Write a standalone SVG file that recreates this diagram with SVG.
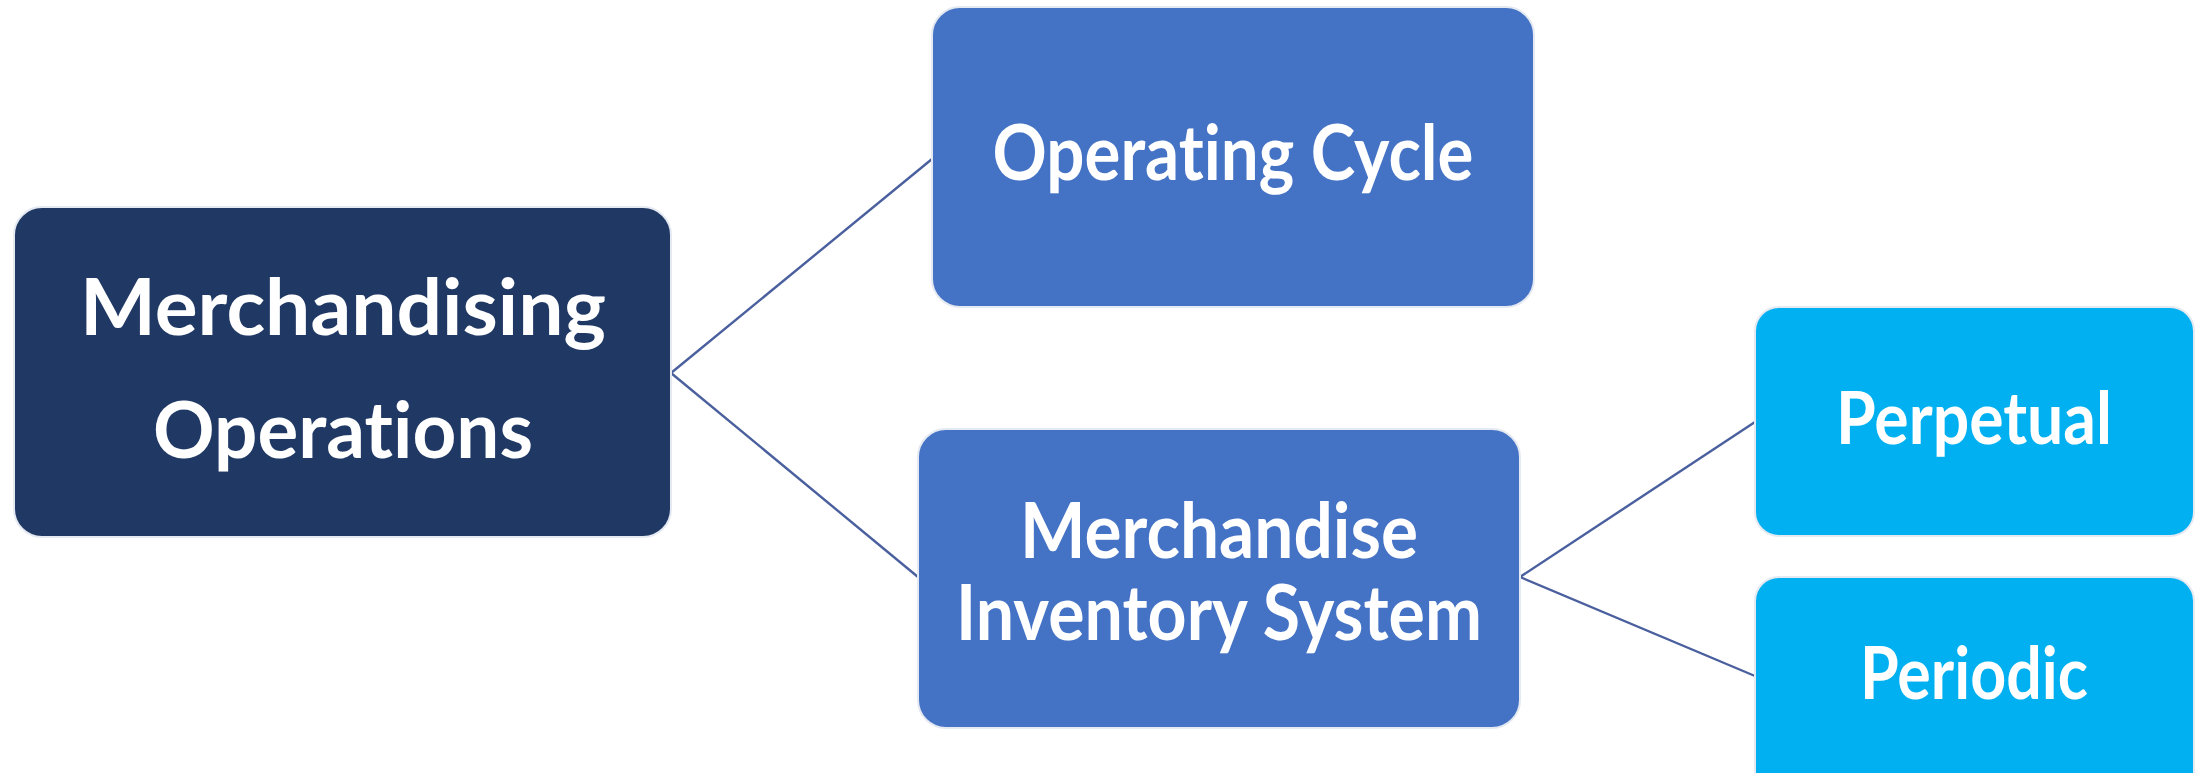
<svg xmlns="http://www.w3.org/2000/svg" width="2205" height="773" viewBox="0 0 2205 773">
  <style>
    .box { stroke: #e4e9f2; stroke-width: 2; }
    .root { fill: #203864; }
    .mid { fill: #4472c4; }
    .leaf { fill: #00b0f0; }
    .lbl { font-family: Lato, "Open Sans", "Liberation Sans", sans-serif; font-weight: bold; font-variant-ligatures: none; fill: #ffffff; text-anchor: middle; }
    .link { stroke: #4a5f9e; stroke-width: 2.4; fill: none; }
  </style>
  <rect width="2205" height="773" fill="#ffffff"/>

  <!-- connectors -->
  <g id="connectors">
    <path class="link" d="M671,373 L932,159"/>
    <path class="link" d="M671,373 L918,577"/>
    <path class="link" d="M1520,577 L1755,422"/>
    <path class="link" d="M1520,577 L1755,676"/>
  </g>

  <g id="node-merchandising-operations">
    <rect class="box root" x="14" y="207" width="657" height="330" rx="28"/>
    <text class="lbl" x="343" y="335" font-size="78" textLength="526" lengthAdjust="spacingAndGlyphs">Merchandising</text>
    <text class="lbl" x="343" y="458" font-size="78" textLength="380" lengthAdjust="spacingAndGlyphs">Operations</text>
  </g>

  <g id="node-operating-cycle">
    <rect class="box mid" x="932" y="7" width="602" height="300" rx="28"/>
    <text class="lbl" x="1233" y="180" font-size="76" textLength="481" lengthAdjust="spacingAndGlyphs">Operating Cycle</text>
  </g>

  <g id="node-merchandise-inventory-system">
    <rect class="box mid" x="918" y="429" width="602" height="299" rx="28"/>
    <text class="lbl" x="1219" y="558" font-size="76" textLength="398" lengthAdjust="spacingAndGlyphs">Merchandise</text>
    <text class="lbl" x="1219" y="640" font-size="76" textLength="526" lengthAdjust="spacingAndGlyphs">Inventory System</text>
  </g>

  <g id="node-perpetual">
    <rect class="box leaf" x="1755" y="307" width="439" height="229" rx="24"/>
    <text class="lbl" x="1974" y="444" font-size="72" textLength="276" lengthAdjust="spacingAndGlyphs">Perpetual</text>
  </g>

  <g id="node-periodic">
    <rect class="box leaf" x="1755" y="577" width="439" height="229" rx="24"/>
    <text class="lbl" x="1974" y="699" font-size="72" textLength="228" lengthAdjust="spacingAndGlyphs">Periodic</text>
  </g>
</svg>
